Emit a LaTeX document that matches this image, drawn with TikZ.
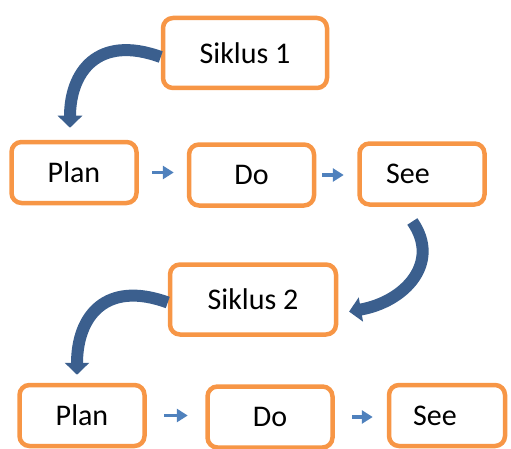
\documentclass[tikz,border=0pt]{standalone}
\usepackage{fontspec}
\setmainfont{Carlito}
\usetikzlibrary{arrows.meta}
\definecolor{boxorange}{HTML}{F79646}
\definecolor{stepblue}{HTML}{4F81BD}
\definecolor{cycleblue}{HTML}{3B5F8E}

\begin{document}
\begin{tikzpicture}[x=1pt,y=1pt,
  box/.style={draw=boxorange,line width=4.5pt,rounded corners=10pt,fill=white,
    minimum width=125pt,minimum height=61pt,font=\fontsize{30}{36}\selectfont},
  seetext/.style={font=\fontsize{30}{36}\selectfont,xshift=-14pt},
  stepto/.style={-{Triangle[length=11pt,width=13pt]},draw=stepblue,line width=3.5pt},
  cycleto/.style={-{Triangle[length=12pt,width=24pt]},draw=cycleblue,line width=12pt}]
  \useasboundingbox (0,0) rectangle (511,448);

  \node[box,minimum width=164pt,minimum height=70pt] (S1) at (245,395) {Siklus 1};
  \node[box] (P1) at (74,275.5) {Plan};
  \node[box] (D1) at (251.5,273) {Do};
  \node[box,label={[seetext]center:See}] (E1) at (422,274) {};

  \node[box,minimum width=166pt,minimum height=70pt] (S2) at (253,148.5) {Siklus 2};
  \node[box] (P2) at (82,32.5) {Plan};
  \node[box] (D2) at (270,31) {Do};
  \node[box,minimum width=116pt,label={[seetext,xshift=2pt]center:See}] (E2) at (447,32.5) {};

  \draw[stepto,shorten <=13.5pt,shorten >=13pt] (P1.east) -- (P1.east -| D1.west);
  \draw[stepto,shorten <=6pt,shorten >=13.5pt] (D1.east) -- (D1.east -| E1.west);
  \draw[stepto,shorten <=17.5pt,shorten >=17.5pt] (P2.east) -- (P2.east -| D2.west);
  \draw[stepto,shorten <=17.5pt,shorten >=14pt] (D2.east) -- (D2.east -| E2.west);

  \draw[cycleto,shorten >=12pt] ([yshift=-4pt]S1.west) to[out=160,in=90,looseness=1.4] ([xshift=-4pt]P1.north);
  \draw[cycleto,shorten <=18pt,shorten >=11pt] ([xshift=-20pt]E1.south) to[out=-55,in=10,looseness=1.4] ([yshift=-14pt]S2.east);
  \draw[cycleto,shorten >=8pt] ([yshift=-3pt]S2.west) to[out=160,in=90,looseness=1.4] ([xshift=-5pt]P2.north);
\end{tikzpicture}
\end{document}
